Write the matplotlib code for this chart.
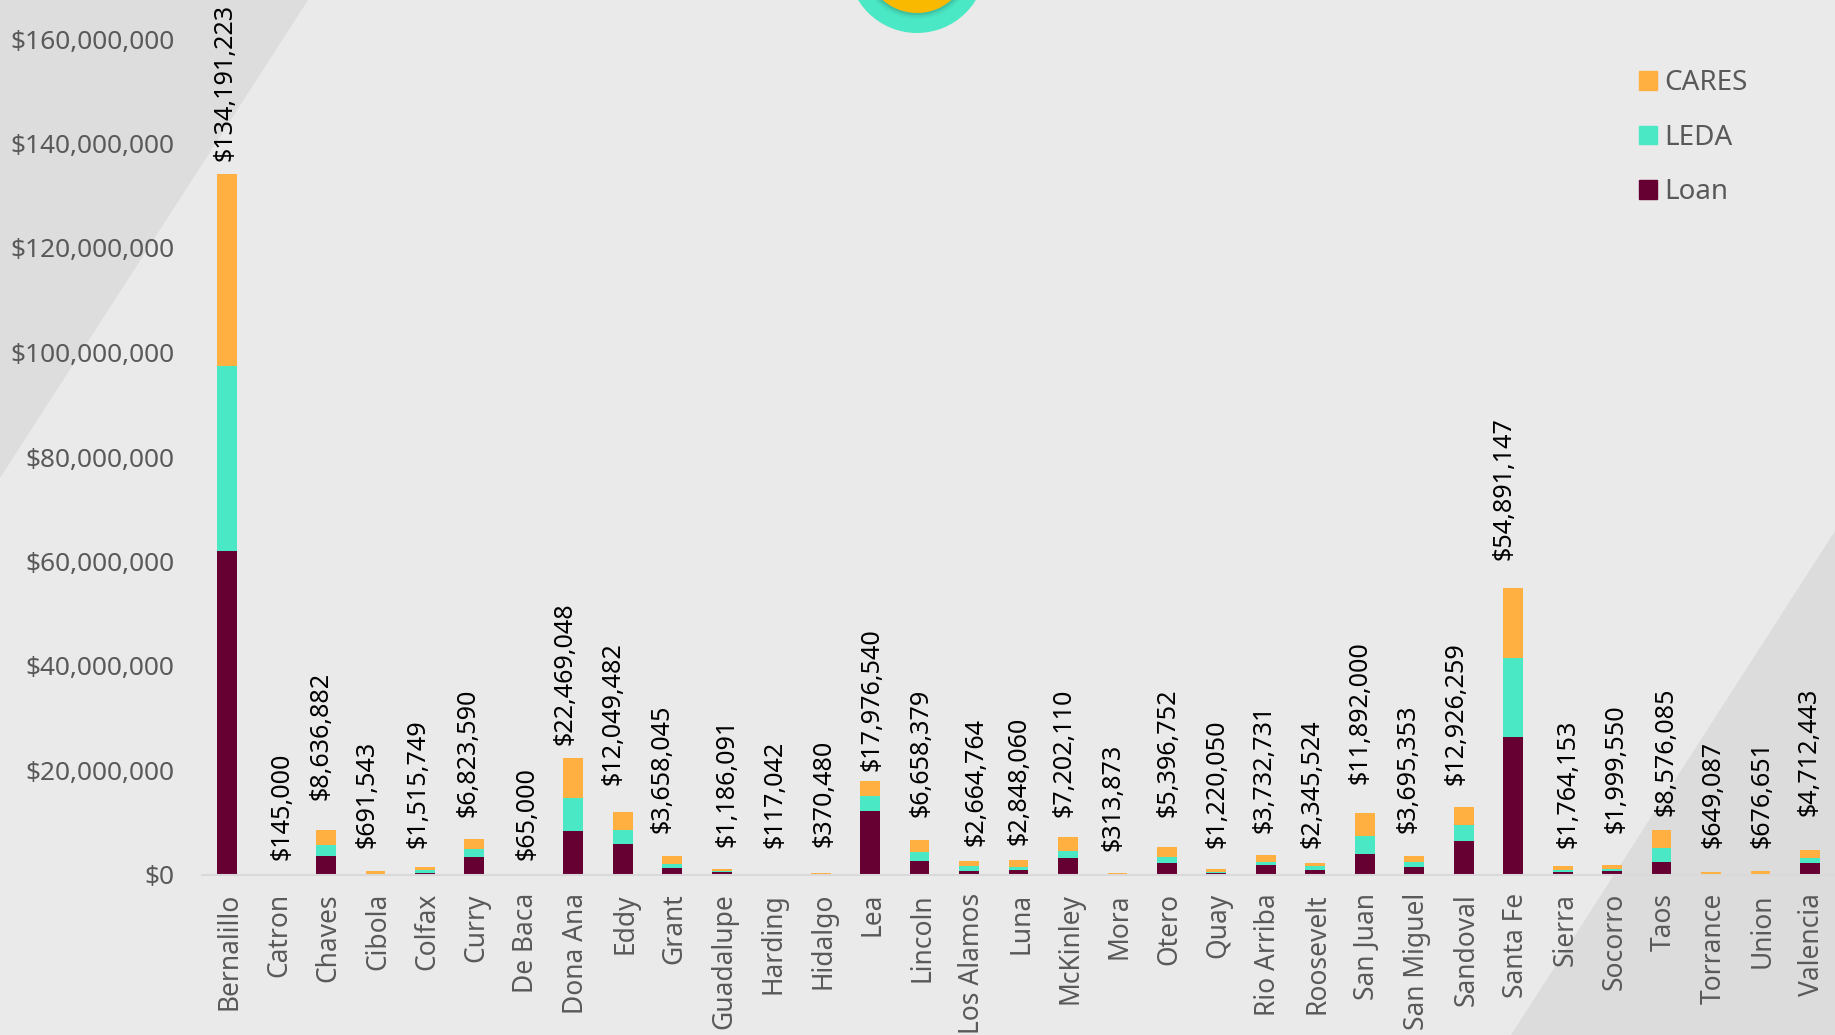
import matplotlib
matplotlib.use('Agg')
import matplotlib.pyplot as plt
from matplotlib.patches import Polygon, Circle, Patch
from matplotlib.ticker import FuncFormatter, MultipleLocator
from matplotlib.transforms import ScaledTranslation

counties = ['Bernalillo', 'Catron', 'Chaves', 'Cibola', 'Colfax', 'Curry', 'De Baca', 'Dona Ana',
            'Eddy', 'Grant', 'Guadalupe', 'Harding', 'Hidalgo', 'Lea', 'Lincoln', 'Los Alamos',
            'Luna', 'McKinley', 'Mora', 'Otero', 'Quay', 'Rio Arriba', 'Roosevelt', 'San Juan',
            'San Miguel', 'Sandoval', 'Santa Fe', 'Sierra', 'Socorro', 'Taos', 'Torrance', 'Union',
            'Valencia']

loan = [62000000, 0, 3570000, 50000, 320000, 3380000, 0, 8490000,
        6000000, 1280000, 500000, 0, 0, 12190000, 2740000, 830000,
        960000, 3320000, 0, 2360000, 450000, 1980000, 1020000, 4080000,
        1600000, 6570000, 26400000, 510000, 830000, 2550000, 180000, 50000,
        2360000]

leda = [35400000, 0, 2240000, 100000, 570000, 1530000, 0, 6180000,
        2610000, 760000, 270000, 0, 20000, 2870000, 1730000, 830000,
        640000, 1270000, 10000, 1150000, 190000, 440000, 640000, 3450000,
        890000, 2940000, 15200000, 450000, 380000, 2620000, 60000, 200000,
        830000]

cares = [36791223, 145000, 2826882, 541543, 625749, 1913590, 65000, 7799048,
         3439482, 1618045, 416091, 117042, 350480, 2916540, 2188379, 1004764,
         1248060, 2612110, 303873, 1886752, 580050, 1312731, 685524, 4362000,
         1205353, 3416259, 13291147, 804153, 789550, 3406085, 409087, 426651,
         1522443]

# hand placed total labels, pixels away from the top centre of each stack
label_dx = [-2, 5, -5, -8, -7, -6, 3, -8, -10, -10, 5, 4, 3, 2, 1, 7, 0, -4, -4, 1, 1, -2, -3, -5,
            -6, -8, -9, 5, 4, 4, 2, 1, -1]
label_dy = [13, 14, 30, 23, 19, 22, 15, 13, 27, 23, 22, 26, 26, 10, 23, 15, 15, 20, 22, 30, 21, 22, 15, 29,
            23, 22, 28, 18, 32, 14, 24, 23, 34]

W, H = 1835, 1035
plt.rcParams['font.family'] = ['Noto Sans', 'DejaVu Sans']

fig = plt.figure(figsize=(W / 100, H / 100), dpi=100, facecolor='#eaeaea')

# background layer in pixel coordinates
bg = fig.add_axes([0, 0, 1, 1], zorder=0)
bg.set_xlim(0, W)
bg.set_ylim(H, 0)
bg.axis('off')
bg.add_patch(Polygon([(0, 0), (308, 0), (0, 478)], color='#dddddd', lw=0))
bg.add_patch(Polygon([(1835, 531), (1511, 1035), (1835, 1035)], color='#dcdcdc', lw=0))

# badge at the top edge, soft shadow under the yellow disc
bg.add_patch(Circle((917, -36), 69, color='#4ae8c4', lw=0))
for r, a in zip([58, 56, 54], [0.05, 0.09, 0.16]):
    bg.add_patch(Circle((917, -39), r, color='#1f5f50', alpha=a, lw=0))
bg.add_patch(Circle((917, -39), 52, color='#f8b900', lw=0))

# main chart, baseline at y=875 and 5.225 px per million
ax = fig.add_axes([202.3 / W, (H - 875) / H, 1632.4 / W, 875 / H], zorder=1)
ax.patch.set_alpha(0)
x = list(range(len(counties)))
bottom_leda = [a for a in loan]
bottom_cares = [a + b for a, b in zip(loan, leda)]
totals = [a + b + c for a, b, c in zip(loan, leda, cares)]

ax.bar(x, loan, width=0.4, color='#660033', label='Loan')
ax.bar(x, leda, width=0.4, bottom=bottom_leda, color='#4ae8c4', label='LEDA')
ax.bar(x, cares, width=0.4, bottom=bottom_cares, color='#ffb040', label='CARES')

ax.set_xlim(-0.5, len(counties) - 0.5)
ax.set_ylim(0, 875 / 5.225 * 1e6)

ax.yaxis.set_major_locator(MultipleLocator(20000000))
ax.yaxis.set_major_formatter(FuncFormatter(lambda v, pos: f'${v:,.0f}'))
ax.set_xticks(x)
ax.set_xticklabels(counties, rotation=90)
ax.tick_params(axis='x', length=0, pad=13, labelsize=19, labelcolor='#595959')
ax.tick_params(axis='y', length=0, pad=20, labelsize=18.9, labelcolor='#595959')

# county names sit a little right of the bar centres
shift = ScaledTranslation(2.5 / 100, 0, fig.dpi_scale_trans)
for lab in ax.get_xticklabels():
    lab.set_transform(lab.get_transform() + shift)

for side in ['top', 'right', 'left']:
    ax.spines[side].set_visible(False)
ax.spines['bottom'].set_color('#d9d9d9')
ax.spines['bottom'].set_linewidth(1.5)

# stack totals
for i, total in enumerate(totals):
    ax.annotate(f'${total:,}', xy=(i, total), xytext=(label_dx[i], label_dy[i]),
                textcoords='offset pixels', rotation=90, ha='center', va='bottom',
                fontsize=18.1, color='black', annotation_clip=False)

handles = [Patch(color='#ffb040', label='CARES'), Patch(color='#4ae8c4', label='LEDA'),
           Patch(color='#660033', label='Loan')]
leg = ax.legend(handles=handles, loc='upper left', bbox_to_anchor=(1639 / W, 1 - 69 / H),
                bbox_transform=fig.transFigure, frameon=False, fontsize=20, labelcolor='#595959',
                handlelength=0.65, handleheight=0.65, handletextpad=0.25, labelspacing=0.96,
                borderpad=0, borderaxespad=0)

fig.savefig('out.png', dpi=100, facecolor=fig.get_facecolor())
